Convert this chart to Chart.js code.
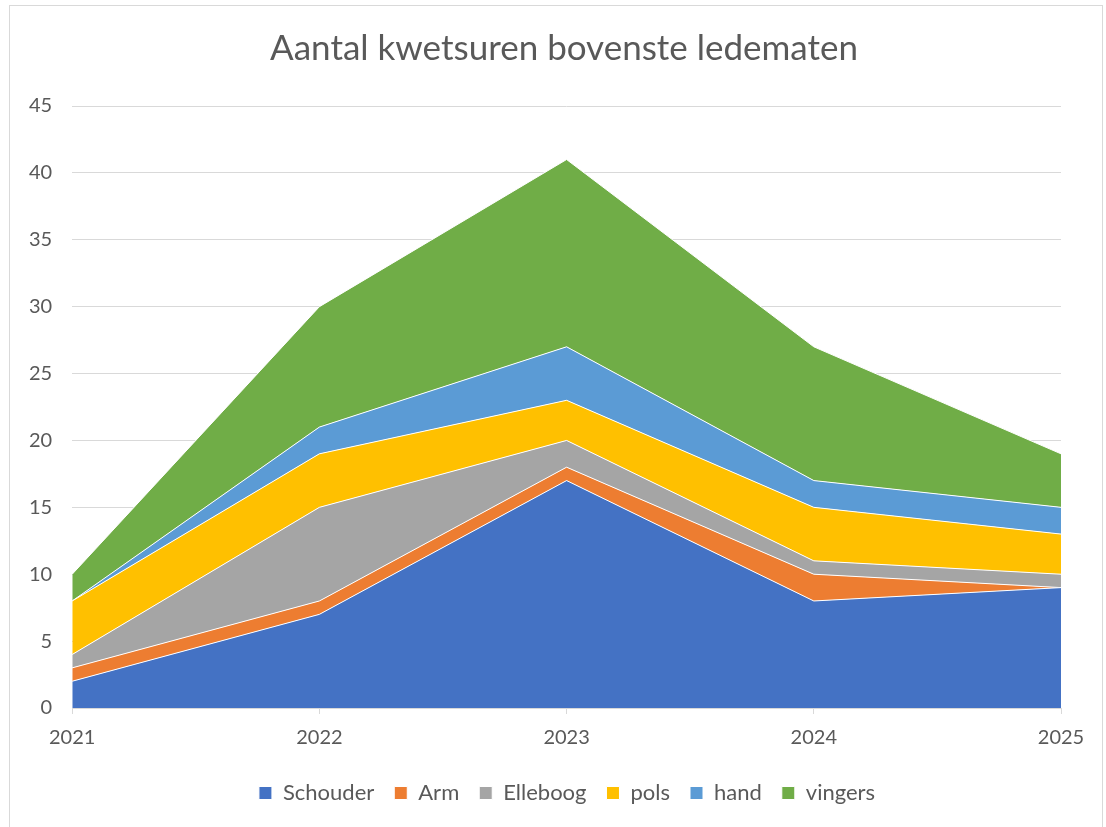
<!DOCTYPE html>
<html>
<head>
<meta charset="utf-8">
<script src="https://cdn.jsdelivr.net/npm/chart.js@4/dist/chart.umd.min.js"></script>
<style>
  html, body { margin: 0; padding: 0; background: #fff; }
  #wrap { position: absolute; left: 0; top: 0; width: 1106px; height: 827px; }
  #frame { position: absolute; left: 9px; top: 5px; width: 1094px; height: 840px; border: 1px solid #d9d9d9; box-sizing: border-box; }
  canvas { position: absolute; left: 0; top: 0; }
</style>
</head>
<body>
<div id="wrap">
  <div id="frame"></div>
  <canvas id="grafiek" width="1106" height="827"></canvas>
</div>
<script>
  // jaren op de x-as
  const jaren = ['2021', '2022', '2023', '2024', '2025'];

  // aantal kwetsuren per lichaamsdeel (gestapeld)
  const schouder = [2, 7, 17, 8, 9];
  const arm      = [1, 1, 1, 2, 0];
  const elleboog = [1, 7, 2, 1, 1];
  const pols     = [4, 4, 3, 4, 3];
  const hand     = [0, 2, 4, 2, 2];
  const vingers  = [2, 9, 14, 10, 4];

  const reeksen = [
    { label: 'Schouder', data: schouder, kleur: '#4472C4' },
    { label: 'Arm',      data: arm,      kleur: '#ED7D31' },
    { label: 'Elleboog', data: elleboog, kleur: '#A5A5A5' },
    { label: 'pols',     data: pols,     kleur: '#FFC000' },
    { label: 'hand',     data: hand,     kleur: '#5B9BD5' },
    { label: 'vingers',  data: vingers,  kleur: '#70AD47' }
  ];

  Chart.defaults.font.family = 'Lato, "Open Sans", sans-serif';
  Chart.defaults.color = '#595959';

  // titel en legenda staan in het origineel iets rechts van het midden
  const verschuif = {
    id: 'verschuif',
    afterLayout(chart) {
      if (chart.titleBlock) {
        chart.titleBlock.left += 29;
        chart.titleBlock.right += 29;
      }
      if (chart.legend) {
        chart.legend.left += 32;
        chart.legend.right += 32;
      }
    }
  };

  var ctx = document.getElementById('grafiek').getContext('2d');

  new Chart(ctx, {
    type: 'line',
    data: {
      labels: jaren,
      datasets: reeksen.map((r, i) => ({
        label: r.label,
        data: r.data,
        backgroundColor: r.kleur,
        borderColor: '#ffffff',
        borderWidth: 1,
        fill: i === 0 ? 'origin' : '-1',
        pointRadius: 0,
        tension: 0
      }))
    },
    options: {
      responsive: false,
      animation: false,
      layout: {
        padding: { left: 9, right: 45, top: 10, bottom: 13 }
      },
      plugins: {
        title: {
          display: true,
          text: 'Aantal kwetsuren bovenste ledematen',
          font: { size: 35, weight: 'normal' },
          color: '#595959',
          padding: { top: 18, bottom: 36 }
        },
        legend: {
          position: 'bottom',
          labels: {
            boxWidth: 13,
            boxHeight: 13,
            padding: 20,
            font: { size: 22 },
            color: '#595959'
          }
        },
        tooltip: { enabled: false }
      },
      scales: {
        x: {
          offset: false,
          grid: {
            display: true,
            drawOnChartArea: false,
            drawTicks: true,
            tickLength: 6,
            color: '#d9d9d9'
          },
          border: { color: '#d9d9d9' },
          ticks: {
            font: { size: 20 },
            color: '#595959',
            padding: 12,
            maxRotation: 0
          }
        },
        y: {
          stacked: true,
          min: 0,
          max: 45,
          grid: {
            color: '#d9d9d9',
            drawTicks: false
          },
          border: { display: false },
          ticks: {
            stepSize: 5,
            font: { size: 20 },
            color: '#595959',
            padding: 20
          }
        }
      }
    },
    plugins: [verschuif]
  });
</script>
</body>
</html>
